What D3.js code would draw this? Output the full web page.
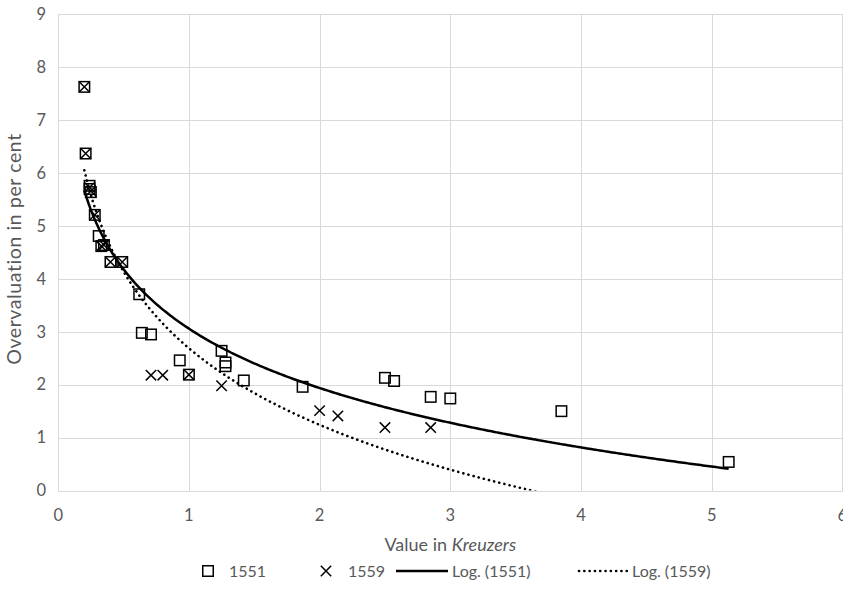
<!DOCTYPE html>
<html>
<head>
<meta charset="utf-8">
<script src="https://cdn.jsdelivr.net/npm/d3@7"></script>
<style>
  body { margin: 0; background: #fff; }
  svg { display: block; font-family: Lato, "Open Sans", sans-serif; }
</style>
</head>
<body>
<svg id="chart" width="843" height="610"></svg>
<script>
// Values.
const xTicks = [0, 1, 2, 3, 4, 5, 6];
const yTicks = [0, 1, 2, 3, 4, 5, 6, 7, 8, 9];

const x1551 = [0.20, 0.21, 0.24, 0.24, 0.25, 0.28, 0.31, 0.33, 0.35, 0.40, 0.49, 0.62, 0.64, 0.71,
               0.93, 1.00, 1.25, 1.28, 1.28, 1.42, 1.87, 2.50, 2.57, 2.85, 3.00, 3.85, 5.13];
const y1551 = [7.63, 6.37, 5.76, 5.70, 5.64, 5.21, 4.81, 4.62, 4.64, 4.32, 4.32, 3.71, 2.98, 2.95,
               2.46, 2.19, 2.64, 2.42, 2.35, 2.08, 1.96, 2.13, 2.07, 1.77, 1.74, 1.50, 0.54];

const x1559 = [0.20, 0.21, 0.24, 0.25, 0.28, 0.33, 0.35, 0.40, 0.49, 0.71, 0.80, 1.00, 1.25,
               2.00, 2.14, 2.50, 2.85];
const y1559 = [7.63, 6.37, 5.73, 5.66, 5.21, 4.62, 4.64, 4.32, 4.32, 2.18, 2.18, 2.19, 1.98,
               1.51, 1.41, 1.19, 1.19];

// Excel logarithmic trendlines: y = a + b * ln(x)
const trendLabels = ["Log. (1551)", "Log. (1559)"];
const trendA = [3.06, 2.69];
const trendB = [-1.62, -2.09];
const trendRange = [0.20, 5.13];

const svg = d3.select("#chart");
const plot = { left: 58.2, right: 842.4, top: 14.4, bottom: 490.5 };

const x = d3.scaleLinear().domain([0, 6]).range([plot.left, plot.right]);
const y = d3.scaleLinear().domain([0, 9]).range([plot.bottom, plot.top]);
const snap = v => Math.round(v) + 0.5;

const grid = "#d9d9d9", tickColor = "#595959", ink = "#000";

// gridlines
svg.append("g").selectAll("line").data(yTicks).join("line")
  .attr("x1", snap(plot.left)).attr("x2", snap(plot.right))
  .attr("y1", d => snap(y(d))).attr("y2", d => snap(y(d)))
  .attr("stroke", grid).attr("stroke-width", 1);
svg.append("g").selectAll("line").data(xTicks).join("line")
  .attr("x1", d => snap(x(d))).attr("x2", d => snap(x(d)))
  .attr("y1", snap(plot.top)).attr("y2", snap(plot.bottom))
  .attr("stroke", grid).attr("stroke-width", 1);

// tick labels
svg.append("g").selectAll("text").data(yTicks).join("text")
  .attr("x", 46).attr("y", d => y(d)).attr("dy", "0.35em")
  .attr("text-anchor", "end").attr("font-size", 16.5).attr("fill", tickColor)
  .text(d => d);
svg.append("g").selectAll("text").data(xTicks).join("text")
  .attr("x", d => x(d)).attr("y", 515).attr("dy", "0.35em")
  .attr("text-anchor", "middle").attr("font-size", 16.5).attr("fill", tickColor)
  .text(d => d);

// axis titles
svg.append("text")
  .attr("transform", "translate(14,249) rotate(-90)")
  .attr("text-anchor", "middle").attr("dy", "0.35em")
  .attr("font-size", 19.5).attr("letter-spacing", 0.6).attr("fill", tickColor)
  .text("Overvaluation in per cent");
const xt = svg.append("text")
  .attr("x", (plot.left + plot.right) / 2).attr("y", 545).attr("dy", "0.35em")
  .attr("text-anchor", "middle").attr("font-size", 18).attr("fill", tickColor);
xt.append("tspan").text("Value in ");
xt.append("tspan").attr("font-style", "italic").text("Kreuzers");

// clip for trendlines
svg.append("clipPath").attr("id", "clip").append("rect")
  .attr("x", plot.left).attr("y", plot.top)
  .attr("width", plot.right - plot.left).attr("height", plot.bottom - plot.top);

const trendStyles = [
  { dash: null, cap: "butt", w: 2.5 },
  { dash: "0.1 5.2", cap: "round", w: 2.6 }
];
const samples = d3.range(0, 301).map(i => trendRange[0] + (trendRange[1] - trendRange[0]) * i / 300);
const line = d3.line().x(d => x(d[0])).y(d => y(d[1]));

trendA.forEach((a, i) => {
  const pts = samples.map(v => [v, a + trendB[i] * Math.log(v)]);
  svg.append("path")
    .attr("clip-path", "url(#clip)")
    .attr("d", line(pts))
    .attr("fill", "none").attr("stroke", ink)
    .attr("stroke-width", trendStyles[i].w)
    .attr("stroke-linecap", trendStyles[i].cap)
    .attr("stroke-dasharray", trendStyles[i].dash);
});

// markers
const S = 10.5; // square side
function squareAt(g, cx, cy) {
  g.append("rect").attr("x", cx - S / 2).attr("y", cy - S / 2)
    .attr("width", S).attr("height", S)
    .attr("fill", "none").attr("stroke", ink).attr("stroke-width", 1.5);
}
function crossAt(g, cx, cy) {
  const r = 5.2;
  g.append("path")
    .attr("d", `M${cx - r},${cy - r}L${cx + r},${cy + r}M${cx - r},${cy + r}L${cx + r},${cy - r}`)
    .attr("stroke", ink).attr("stroke-width", 1.5).attr("fill", "none");
}

const g1551 = svg.append("g");
x1551.forEach((v, i) => squareAt(g1551, x(v), y(y1551[i])));
const g1559 = svg.append("g");
x1559.forEach((v, i) => crossAt(g1559, x(v), y(y1559[i])));

// legend
const ly = 571;
const leg = svg.append("g").attr("font-size", 16).attr("fill", tickColor);
squareAt(leg, 208, ly);
leg.append("text").attr("x", 229).attr("y", ly).attr("dy", "0.35em").text("1551");
crossAt(leg, 326, ly);
leg.append("text").attr("x", 348).attr("y", ly).attr("dy", "0.35em").text("1559");
leg.append("line").attr("x1", 396).attr("x2", 448).attr("y1", ly).attr("y2", ly)
  .attr("stroke", ink).attr("stroke-width", 2.5);
leg.append("text").attr("x", 452).attr("y", ly).attr("dy", "0.35em").text(trendLabels[0]);
leg.append("line").attr("x1", 579).attr("x2", 628).attr("y1", ly).attr("y2", ly)
  .attr("stroke", ink).attr("stroke-width", 2.6)
  .attr("stroke-linecap", "round").attr("stroke-dasharray", "0.1 5.2");
leg.append("text").attr("x", 632).attr("y", ly).attr("dy", "0.35em").text(trendLabels[1]);
</script>
</body>
</html>
